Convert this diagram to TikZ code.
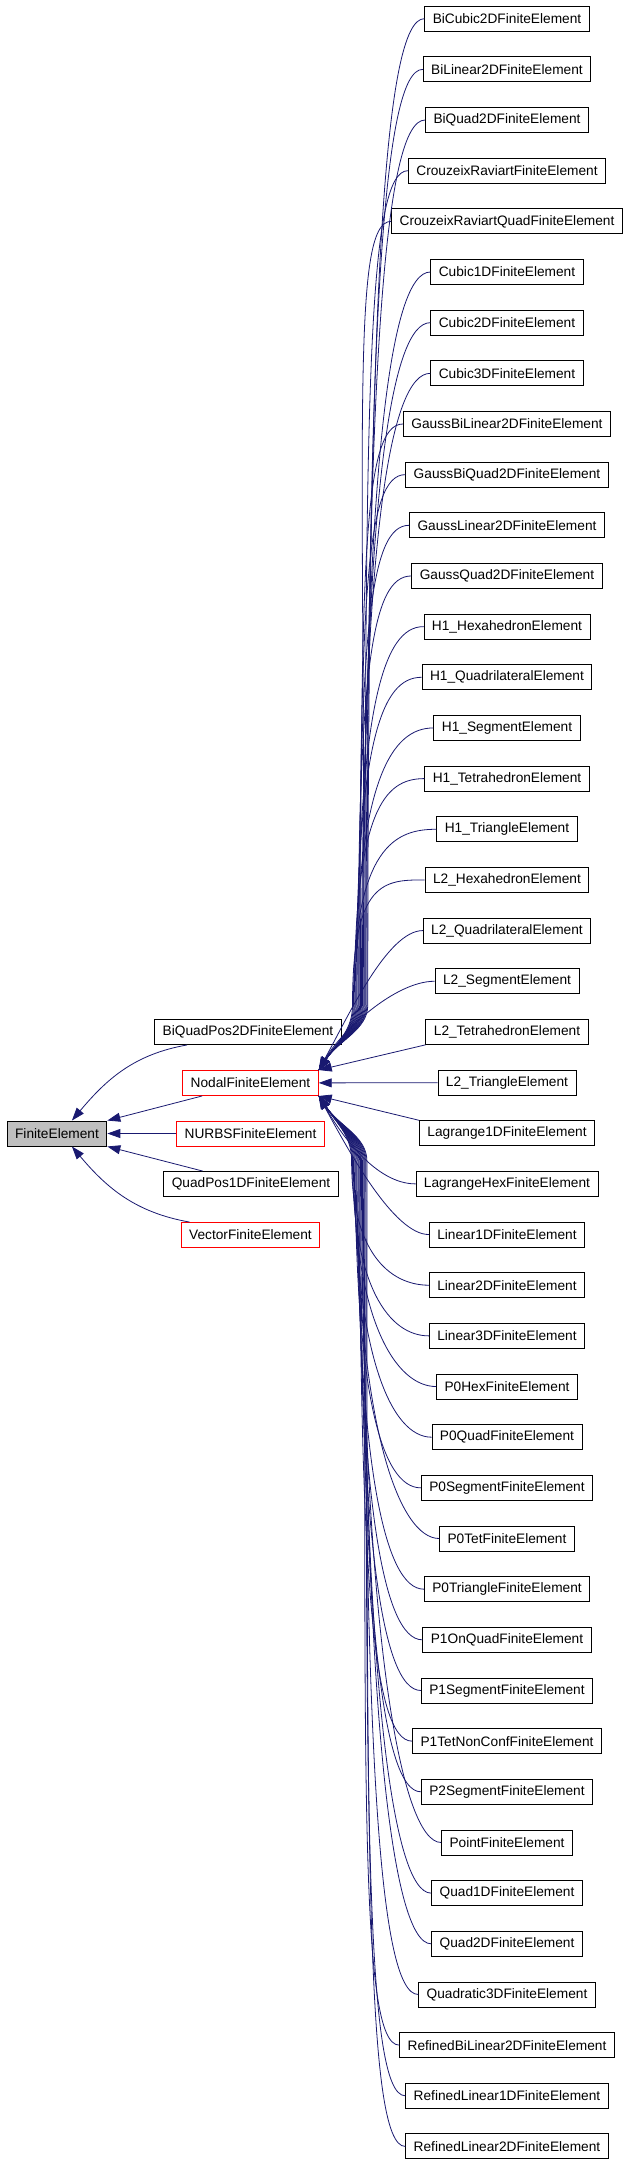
\documentclass[tikz,border=0pt]{standalone}
\usepackage{fontspec}
\setmainfont{Liberation Sans}
\usetikzlibrary{arrows.meta}

\definecolor{edgeblue}{HTML}{191970}

\tikzset{
	box/.style={draw=black, line width=0.9pt, inner xsep=8pt, inner ysep=0pt,
		minimum height=25pt, font=\fontsize{13.7}{16}\selectfont},
	redbox/.style={box, draw=red},
	basebox/.style={box, fill=gray!50},
	edge/.style={edgeblue, line width=0.8pt, -{Triangle[length=13pt,width=9pt]}}
}

\begin{document}
\begin{tikzpicture}[x=1pt, y=1pt]
		\useasboundingbox (0, 0) rectangle (627, -2165);

		% base class and its direct subclasses
		\node [basebox] (fe) at (57, -1133.5) {FiniteElement};
		\node [box] (biquadpos) at (248, -1032) {BiQuadPos2DFiniteElement};
		\node [redbox] (nodal) at (250.5, -1083) {NodalFiniteElement};
		\node [redbox] (nurbs) at (250.5, -1133.5) {NURBSFiniteElement};
		\node [box] (quadpos) at (251, -1184) {QuadPos1DFiniteElement};
		\node [redbox] (vector) at (250.5, -1235) {VectorFiniteElement};

		% subclasses of the nodal element, one per row
		\foreach \n/\t [count=\k from 0] in {
				bicubic/BiCubic2DFiniteElement, bilin/BiLinear2DFiniteElement,
				biquad/BiQuad2DFiniteElement, crouzeix/CrouzeixRaviartFiniteElement,
				crouzeixquad/CrouzeixRaviartQuadFiniteElement, cubic1d/Cubic1DFiniteElement,
				cubic2d/Cubic2DFiniteElement, cubic3d/Cubic3DFiniteElement,
				gaussbilin/GaussBiLinear2DFiniteElement, gaussbiquad/GaussBiQuad2DFiniteElement,
				gausslin/GaussLinear2DFiniteElement, gaussquad/GaussQuad2DFiniteElement,
				h1hex/H1\_HexahedronElement, h1quad/H1\_QuadrilateralElement,
				h1seg/H1\_SegmentElement, h1tet/H1\_TetrahedronElement,
				h1tri/H1\_TriangleElement, l2hex/L2\_HexahedronElement,
				l2quad/L2\_QuadrilateralElement, l2seg/L2\_SegmentElement,
				l2tet/L2\_TetrahedronElement, l2tri/L2\_TriangleElement,
				lagr1d/Lagrange1DFiniteElement, lagrhex/LagrangeHexFiniteElement,
				lin1d/Linear1DFiniteElement, lin2d/Linear2DFiniteElement,
				lin3d/Linear3DFiniteElement, p0hex/P0HexFiniteElement,
				p0quad/P0QuadFiniteElement, p0seg/P0SegmentFiniteElement,
				p0tet/P0TetFiniteElement, p0tri/P0TriangleFiniteElement,
				p1onquad/P1OnQuadFiniteElement, p1seg/P1SegmentFiniteElement,
				p1tetnc/P1TetNonConfFiniteElement, p2seg/P2SegmentFiniteElement,
				point/PointFiniteElement, quad1d/Quad1DFiniteElement,
				quad2d/Quad2DFiniteElement, quadratic3d/Quadratic3DFiniteElement,
				refbilin2d/RefinedBiLinear2DFiniteElement, reflin1d/RefinedLinear1DFiniteElement,
				reflin2d/RefinedLinear2DFiniteElement}
			\node [box] (\n) at (507, {-18.7-50.66*\k}) {\t};

		% edges into the base class
		\draw [edge] (biquadpos.192) to [out=190, in=50] (fe.41);
		\draw [edge] (nodal.195) -- (fe.north east);
		\draw [edge] (nurbs) -- (fe);
		\draw [edge] (quadpos.165) -- (fe.south east);
		\draw [edge] (vector.168) to [out=170, in=-50] (fe.-41);

		% edges into the nodal element, from above (\r = rows apart),
		% running down a bundle and then bending into the corner
		\foreach \n [evaluate=\k as \r using 22-\k, count=\k from 1] in {bicubic, bilin,
				biquad, crouzeix, crouzeixquad, cubic1d, cubic2d, cubic3d, gaussbilin,
				gaussbiquad, gausslin, gaussquad, h1hex, h1quad, h1seg, h1tet, h1tri, l2hex}
			\draw [edge] (\n.west) .. controls +(-40, 0) and +(0, {35*\r-50}) .. ({348+0.9*\r}, -1005)
				.. controls +(0, -25) and +(20, 30) .. (nodal.north east);
		\draw [edge] (l2quad.west) .. controls +(-35, 0) and +(30, 55) .. (nodal.north east);
		\draw [edge] (l2seg.west) .. controls +(-40, 0) and +(22, 38) .. (nodal.north east);
		\draw [edge] (l2tet.south west) -- (nodal.north east);
		\draw [edge] (l2tri) -- (nodal);

		% and from below
		\draw [edge] (lagr1d.north west) -- (nodal.south east);
		\draw [edge] (lagrhex.west) .. controls +(-40, 0) and +(22, -38) .. (nodal.south east);
		\draw [edge] (lin1d.west) .. controls +(-35, 0) and +(30, -55) .. (nodal.south east);
		\foreach \n [count=\r from 4] in {lin2d, lin3d, p0hex, p0quad, p0seg, p0tet, p0tri,
				p1onquad, p1seg, p1tetnc, p2seg, point, quad1d, quad2d, quadratic3d,
				refbilin2d, reflin1d, reflin2d}
			\draw [edge] (\n.west) .. controls +(-40, 0) and +(0, {50-35*\r}) .. ({348+0.9*\r}, -1161)
				.. controls +(0, 25) and +(20, -30) .. (nodal.south east);
\end{tikzpicture}
\end{document}
